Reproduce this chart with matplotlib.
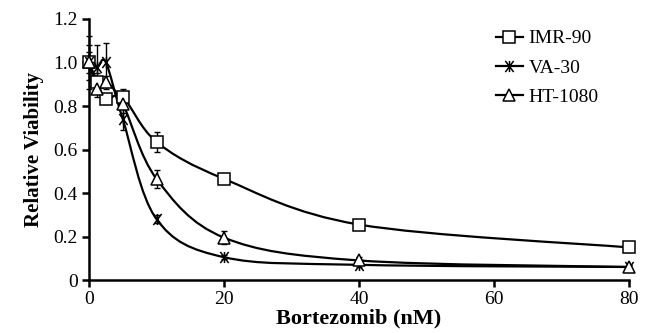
import numpy as np
import matplotlib
matplotlib.use("Agg")
import matplotlib.pyplot as plt
from matplotlib.path import Path
from matplotlib.patches import PathPatch
from matplotlib.lines import Line2D

plt.rcParams['font.family'] = ['Liberation Serif', 'DejaVu Serif']

# Data
dose = [0, 1.25, 2.5, 5, 10, 20, 40, 80]
imr90 = [1.0, 0.91, 0.83, 0.84, 0.635, 0.465, 0.255, 0.15]
imr90_err = [0.05, 0.04, 0.02, 0.04, 0.045, 0.02, 0.015, 0.02]
va30 = [1.0, 0.98, 1.0, 0.74, 0.28, 0.105, 0.07, 0.06]
va30_err = [0.12, 0.10, 0.09, 0.05, 0.02, 0.01, 0.01, 0.01]
ht1080 = [1.0, 0.88, 0.91, 0.81, 0.465, 0.195, 0.09, 0.06]
ht1080_err = [0.08, 0.04, 0.03, 0.04, 0.04, 0.03, 0.015, 0.01]

labels = ["IMR-90", "VA-30", "HT-1080"]

# asterisk marker: vertical bar plus an X
star = Path([(0, -1), (0, 1), (-0.75, -1), (0.75, 1), (-0.75, 1), (0.75, -1)],
            [Path.MOVETO, Path.LINETO, Path.MOVETO, Path.LINETO,
             Path.MOVETO, Path.LINETO])
markers = ["s", star, "^"]


def smooth_path(x, y):
    # Excel-like smoothed line: Catmull-Rom turned into cubic Bezier segments
    pts = np.column_stack([x, y]).astype(float)
    n = len(pts)
    verts = [pts[0]]
    codes = [Path.MOVETO]
    for i in range(n - 1):
        p0 = pts[i - 1] if i > 0 else pts[i]
        p1 = pts[i]
        p2 = pts[i + 1]
        p3 = pts[i + 2] if i + 2 < n else pts[i + 1]
        verts += [p1 + (p2 - p0) / 6, p2 - (p3 - p1) / 6, p2]
        codes += [Path.CURVE4] * 3
    return Path(verts, codes)


fig = plt.figure(figsize=(6.46, 3.33), dpi=100)
ax = fig.add_axes([0.1378, 0.159, 0.836, 0.784])

series = [(imr90, imr90_err), (va30, va30_err), (ht1080, ht1080_err)]
handles = []
for (vals, errs), m, lab in zip(series, markers, labels):
    ax.add_patch(PathPatch(smooth_path(dose, vals), facecolor='none',
                           edgecolor='black', lw=1.6, clip_on=False))
    ax.errorbar(dose, vals, yerr=errs, fmt='none', ecolor='black',
                elinewidth=1.0, capsize=2.5, capthick=1.0, clip_on=False)
    ax.plot(dose, vals, linestyle='none', marker=m, ms=8, mfc='white',
            mec='black', mew=1.1, clip_on=False, zorder=3)
    handles.append(Line2D([], [], color='black', lw=1.6, marker=m, ms=8,
                          mfc='white', mec='black', mew=1.1))

ax.set_xlim(0, 80)
ax.set_ylim(0, 1.2)
ax.set_xticks([0, 20, 40, 60, 80])
ax.set_yticks([0, 0.2, 0.4, 0.6, 0.8, 1.0, 1.2])
ax.set_yticklabels(["0", "0.2", "0.4", "0.6", "0.8", "1.0", "1.2"])
ax.tick_params(direction='out', length=5, width=1.8, labelsize=14, pad=3)

for s in ['top', 'right']:
    ax.spines[s].set_visible(False)
for s in ['left', 'bottom']:
    ax.spines[s].set_linewidth(1.8)

ax.set_xlabel("Bortezomib (nM)", fontsize=16, fontweight='bold', labelpad=0)
ax.set_ylabel("Relative Viability", fontsize=15, fontweight='bold', labelpad=7)

fig.legend(handles, labels, loc='upper left', bbox_to_anchor=(0.752, 0.94),
           frameon=False, fontsize=14, handlelength=1.4, handletextpad=0.3,
           labelspacing=0.6, borderpad=0)

fig.savefig("out.png", dpi=100)
